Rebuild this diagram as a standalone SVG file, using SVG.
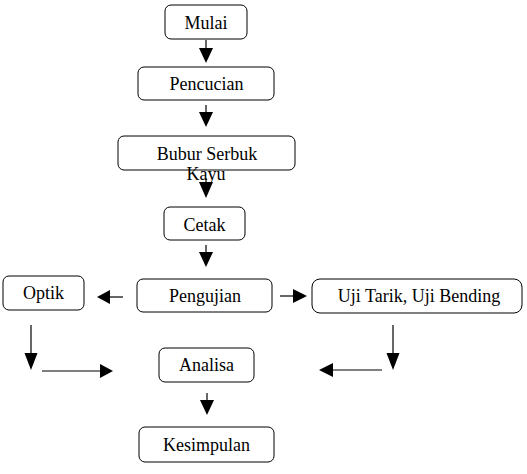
<svg xmlns="http://www.w3.org/2000/svg" width="527" height="474" viewBox="0 0 527 474">
<style>
.box{fill:#fff;stroke:#000;stroke-width:1}
.t{font-family:"Liberation Serif","Times New Roman",serif;font-size:18px;fill:#000;text-anchor:middle}
.ln{stroke:#000;stroke-width:1.2;fill:none}
.ah{fill:#000}
</style>
<rect width="527" height="474" fill="#fff"/>
<g id="connectors">
<line class="ln" x1="206" y1="40" x2="206" y2="50"/><polygon class="ah" points="199,48 213,48 206,63"/>
<line class="ln" x1="206" y1="105" x2="206" y2="114"/><polygon class="ah" points="199,112 213,112 206,127"/>
<line class="ln" x1="206" y1="178" x2="206" y2="184"/><polygon class="ah" points="199,182 213,182 206,198"/>
<line class="ln" x1="206" y1="245" x2="206" y2="254"/><polygon class="ah" points="199,252 213,252 206,267"/>
<line class="ln" x1="123" y1="297" x2="108" y2="297"/><polygon class="ah" points="110,290 110,304 97,297"/>
<line class="ln" x1="280" y1="296" x2="295" y2="296"/><polygon class="ah" points="293,289 293,303 307,296"/>
<line class="ln" x1="31" y1="325" x2="31" y2="355"/><polygon class="ah" points="24.5,353 37.5,353 31,370"/>
<line class="ln" x1="42" y1="371" x2="102" y2="371"/><polygon class="ah" points="100,364 100,378 113,371"/>
<line class="ln" x1="393" y1="325" x2="393" y2="355"/><polygon class="ah" points="386.5,353 399.5,353 393,370"/>
<line class="ln" x1="382" y1="370" x2="331" y2="370"/><polygon class="ah" points="333,363 333,377 319,370"/>
<line class="ln" x1="207" y1="393" x2="207" y2="402"/><polygon class="ah" points="200,400 214,400 207,415"/>
</g>
<g id="mulai"><rect class="box" x="165" y="5" width="82" height="34" rx="6"/><text class="t" x="206" y="29">Mulai</text></g>
<g id="pencucian"><rect class="box" x="138" y="67" width="136" height="33" rx="6"/><text class="t" x="206.5" y="90">Pencucian</text></g>
<g id="bubur"><rect class="box" x="118" y="136" width="177" height="34" rx="6"/><text class="t" x="207" y="160">Bubur Serbuk</text><text class="t" x="206" y="180">Kayu</text></g>
<g id="cetak"><rect class="box" x="164" y="207" width="81" height="33" rx="6"/><text class="t" x="204.5" y="231">Cetak</text></g>
<g id="pengujian"><rect class="box" x="137" y="279" width="135" height="33" rx="6"/><text class="t" x="205" y="302">Pengujian</text></g>
<g id="optik"><rect class="box" x="3" y="276" width="81" height="34" rx="6"/><text class="t" x="43.5" y="299">Optik</text></g>
<g id="uji"><rect class="box" x="312" y="279" width="210" height="34" rx="8"/><text class="t" x="419" y="302">Uji Tarik, Uji Bending</text></g>
<g id="analisa"><rect class="box" x="159" y="348" width="95" height="34" rx="6"/><text class="t" x="206.5" y="371">Analisa</text></g>
<g id="kesimpulan"><rect class="box" x="139" y="427" width="135" height="35" rx="6"/><text class="t" x="206.5" y="451">Kesimpulan</text></g>
</svg>
